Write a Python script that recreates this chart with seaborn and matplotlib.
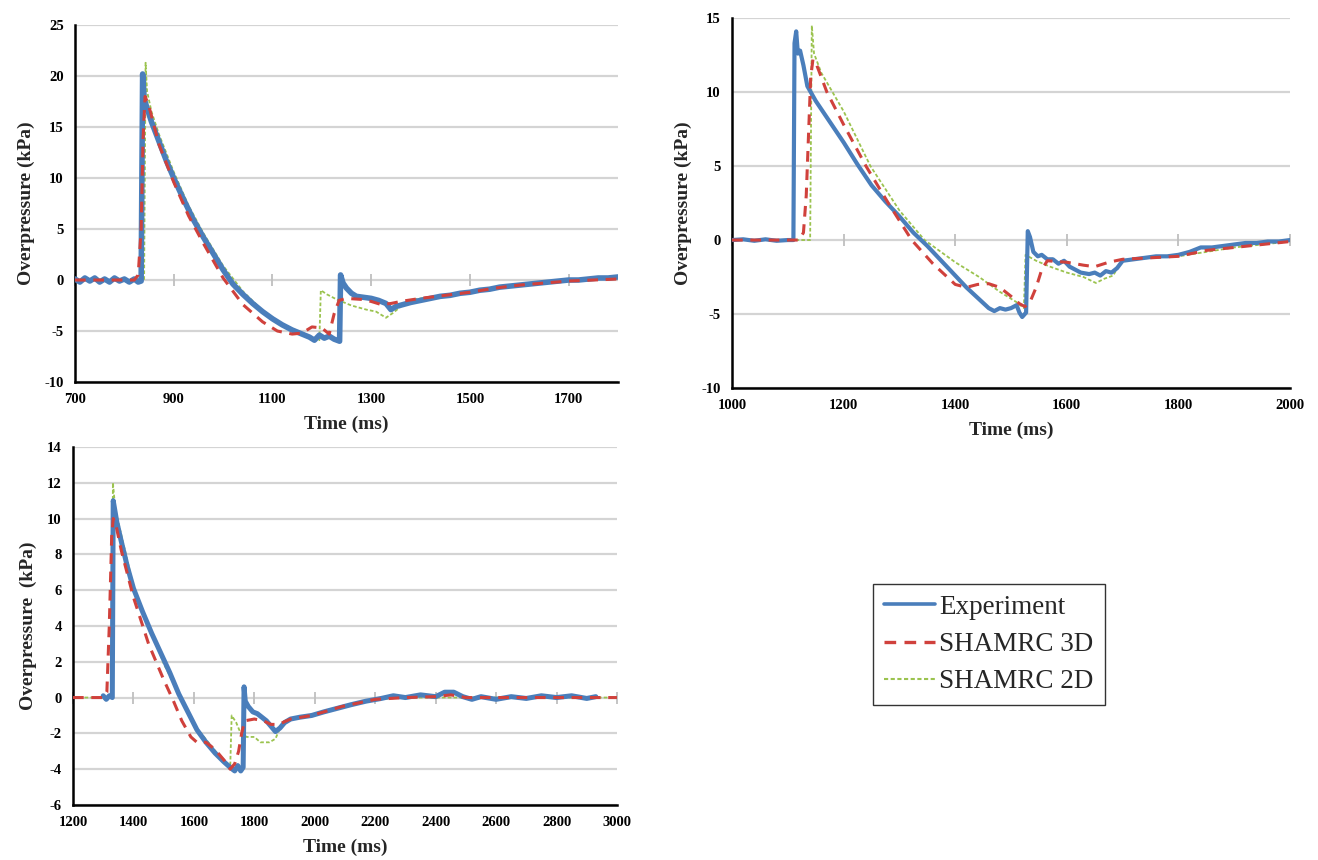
import numpy as np
import pandas as pd
import seaborn as sns
import matplotlib.pyplot as plt
from matplotlib.lines import Line2D

sns.set_theme(style="white")
plt.rcParams['font.family'] = ['Liberation Serif', 'DejaVu Serif']
plt.rcParams['axes.unicode_minus'] = False

# ---------------- Panel 1 data (top-left) ----------------
p1_exp_t = [700, 710, 720, 730, 740, 750, 760, 770, 780, 790, 800, 810, 820, 828, 834, 837, 840,
            845, 855, 870, 885, 900, 920, 940, 960, 980, 1000, 1020, 1040, 1060, 1080, 1100, 1120,
            1140, 1160, 1175, 1185, 1195, 1205, 1215, 1225, 1236, 1238, 1243, 1250, 1260, 1270,
            1285, 1300, 1315, 1330, 1340, 1350, 1365, 1380, 1400, 1420, 1440, 1460, 1480, 1500,
            1520, 1540, 1560, 1580, 1600, 1620, 1640, 1660, 1680, 1700, 1720, 1740, 1760, 1780,
            1800]
p1_exp_v = [0.1, -0.2, 0.2, -0.1, 0.2, -0.2, 0.1, -0.2, 0.2, -0.1, 0.1, -0.2, 0.1, -0.2, -0.1,
            20.2, 17.8, 17.0, 15.5, 13.6, 11.7, 10.0, 7.9, 5.9, 4.2, 2.6, 1.0, -0.4, -1.4, -2.3,
            -3.1, -3.8, -4.4, -4.9, -5.3, -5.6, -5.9, -5.4, -5.7, -5.5, -5.8, -6.0, 0.5, -0.3,
            -0.8, -1.3, -1.6, -1.7, -1.8, -2.0, -2.3, -2.9, -2.6, -2.4, -2.2, -2.0, -1.8, -1.6,
            -1.5, -1.3, -1.2, -1.0, -0.9, -0.7, -0.6, -0.5, -0.4, -0.3, -0.2, -0.1, 0.0, 0.0,
            0.1, 0.2, 0.2, 0.3]

p1_3d_t = [700, 760, 820, 828, 834, 838, 842, 850, 870, 900, 930, 960, 1000, 1040, 1080, 1110,
           1140, 1160, 1180, 1200, 1215, 1225, 1235, 1250, 1280, 1300, 1320, 1340, 1360, 1400,
           1450, 1500, 1550, 1600, 1650, 1700, 1750, 1800]
p1_3d_v = [0, 0, 0, 0.5, 5, 14, 18, 17, 13.3, 9.6, 6.3, 3.6, 0.2, -2.4, -4.1, -5.0, -5.3, -5.2,
           -4.6, -4.7, -5.3, -3.3, -2.0, -1.8, -1.9, -2.1, -2.4, -2.3, -2.1, -1.8, -1.5, -1.2,
           -0.8, -0.5, -0.3, -0.1, 0.0, 0.1]

p1_2d_t = [700, 780, 840, 843, 846, 855, 870, 900, 930, 960, 1000, 1040, 1080, 1120, 1160, 1195,
           1198, 1210, 1230, 1260, 1290, 1310, 1330, 1345, 1360, 1375, 1400, 1500, 1600, 1700, 1800]
p1_2d_v = [0, 0, 0, 21.3, 18.5, 16.5, 14.3, 10.6, 7.3, 4.6, 1.4, -1.1, -3.0, -4.3, -5.2, -5.9,
           -1.0, -1.4, -1.9, -2.5, -2.9, -3.1, -3.7, -3.2, -2.6, -2.0, -1.8, -1.2, -0.5, -0.1, 0.2]

# ---------------- Panel 2 data (top-right) ----------------
p2_exp_t = [1000, 1020, 1040, 1060, 1080, 1100, 1110, 1112, 1115, 1118, 1122, 1128, 1135, 1150,
            1175, 1200, 1225, 1250, 1275, 1300, 1325, 1350, 1375, 1400, 1420, 1440, 1460, 1470,
            1480, 1490, 1500, 1510, 1515, 1520, 1527, 1530, 1534, 1540, 1548, 1555, 1565, 1575,
            1585, 1595, 1605, 1615, 1625, 1640, 1650, 1660, 1670, 1680, 1690, 1700, 1720, 1740,
            1760, 1780, 1800, 1820, 1840, 1860, 1880, 1900, 1920, 1940, 1960, 1980, 2000]
p2_exp_v = [0, 0.05, -0.05, 0.05, -0.05, 0, 0, 13.3, 14.1, 12.6, 12.8, 11.8, 10.4, 9.4, 8.0, 6.6,
            5.1, 3.7, 2.6, 1.6, 0.5, -0.4, -1.4, -2.4, -3.2, -3.9, -4.6, -4.8, -4.6, -4.7, -4.6,
            -4.4, -4.9, -5.2, -4.9, 0.6, 0.2, -0.8, -1.1, -1.0, -1.3, -1.3, -1.6, -1.4, -1.8,
            -2.0, -2.2, -2.3, -2.2, -2.4, -2.1, -2.2, -1.9, -1.4, -1.3, -1.2, -1.1, -1.1, -1.0,
            -0.8, -0.5, -0.5, -0.4, -0.3, -0.2, -0.2, -0.1, -0.1, 0]

p2_3d_t = [1000, 1050, 1100, 1120, 1128, 1133, 1137, 1141, 1145, 1150, 1170, 1200, 1240, 1280,
           1322, 1360, 1400, 1420, 1440, 1460, 1480, 1500, 1515, 1525, 1535, 1545, 1555, 1565,
           1600, 1630, 1650, 1675, 1700, 1800, 1850, 1900, 1950, 2000]
p2_3d_v = [0, 0, 0, 0, 0.5, 3, 7, 11, 12.2, 12.0, 10.0, 7.8, 5.0, 2.5, 0, -1.6, -3.0, -3.2,
           -3.0, -2.95, -3.2, -3.8, -4.3, -4.5, -4.1, -3.2, -2.0, -1.4, -1.5, -1.7, -1.8, -1.5,
           -1.3, -1.1, -0.7, -0.5, -0.3, -0.1]

p2_2d_t = [1000, 1140, 1143, 1147, 1160, 1200, 1248, 1300, 1345, 1400, 1443, 1480, 1510, 1523,
           1526, 1545, 1570, 1600, 1630, 1652, 1668, 1683, 1698, 1750, 1800, 1900, 2000]
p2_2d_v = [0, 0, 14.5, 12.6, 11.3, 8.7, 5.0, 2.0, 0, -1.5, -2.5, -3.5, -4.2, -4.6, -1.0, -1.4,
           -1.8, -2.2, -2.5, -2.9, -2.6, -2.4, -1.4, -1.2, -1.1, -0.5, -0.1]

# ---------------- Panel 3 data (bottom-left) ----------------
p3_exp_t = [1300, 1310, 1320, 1330, 1333, 1337, 1345, 1360, 1380, 1400, 1430, 1460, 1490, 1520,
            1550, 1580, 1610, 1640, 1670, 1700, 1720, 1735, 1745, 1755, 1763, 1766, 1770, 1780,
            1795, 1810, 1825, 1840, 1855, 1870, 1885, 1900, 1920, 1950, 1990, 2030, 2075, 2120,
            2170, 2220, 2260, 2300, 2350, 2400, 2430, 2460, 2490, 2520, 2550, 2600, 2650, 2700,
            2750, 2800, 2850, 2900, 2930]
p3_exp_v = [0.1, -0.1, 0.1, 0, 11.0, 10.6, 9.8, 8.7, 7.3, 6.1, 4.8, 3.6, 2.5, 1.4, 0.2, -0.8,
            -1.8, -2.5, -3.1, -3.6, -3.9, -4.1, -3.8, -4.1, -3.9, 0.6, -0.2, -0.5, -0.8, -0.9,
            -1.1, -1.3, -1.6, -1.9, -1.7, -1.4, -1.2, -1.1, -1.0, -0.8, -0.6, -0.4, -0.2, -0.05,
            0.1, 0.0, 0.15, 0.05, 0.3, 0.3, 0.05, -0.1, 0.05, -0.1, 0.05, -0.05, 0.1, 0.0, 0.1,
            -0.05, 0.05]

p3_3d_t = [1200, 1250, 1300, 1312, 1320, 1328, 1333, 1340, 1360, 1400, 1450, 1500, 1530, 1560,
           1590, 1610, 1640, 1670, 1700, 1720, 1735, 1748, 1758, 1768, 1800, 1830, 1855, 1880,
           1920, 1990, 2090, 2200, 2300, 2400, 2450, 2500, 2600, 3000]
p3_3d_v = [0, 0, 0, 0.3, 4, 9, 10.0, 9.8, 8.2, 5.6, 3.0, 1.0, -0.1, -1.3, -2.2, -2.5, -2.5, -2.9,
           -3.5, -4.0, -3.7, -3.0, -2.0, -1.3, -1.2, -1.3, -1.5, -1.5, -1.2, -1.0, -0.5, -0.1,
           0, 0.05, 0.15, 0, 0, 0]

p3_2d_t = [1200, 1300, 1329, 1332, 1340, 1400, 1500, 1600, 1700, 1720, 1725, 1740, 1755, 1775,
           1800, 1820, 1850, 1870, 1890, 1900, 2000, 2100, 2200, 2300, 3000]
p3_2d_v = [0, 0, 0, 12.0, 10.5, 6.2, 1.9, -1.5, -3.6, -4.0, -1.0, -1.4, -2.0, -2.2, -2.2, -2.5,
           -2.5, -2.3, -1.5, -1.3, -0.9, -0.5, -0.1, 0, 0]

series_names = ["Experiment", "SHAMRC 3D", "SHAMRC 2D"]

p1_xlim = [700, 1800]
p1_xticks = [700, 900, 1100, 1300, 1500, 1700]
p1_yticks = [-10, -5, 0, 5, 10, 15, 20, 25]
p2_xlim = [1000, 2000]
p2_xticks = [1000, 1200, 1400, 1600, 1800, 2000]
p2_yticks = [-10, -5, 0, 5, 10, 15]
p3_xlim = [1200, 3000]
p3_xticks = [1200, 1400, 1600, 1800, 2000, 2200, 2400, 2600, 2800, 3000]
p3_yticks = [-6, -4, -2, 0, 2, 4, 6, 8, 10, 12, 14]

# ---------------- styling ----------------
C_EXP = "#4A7EBB"
C_3D = "#D0413C"
C_2D = "#9BC34F"
GRID = "#D4D4D4"

fig = plt.figure(figsize=(13.18, 8.6), dpi=100)
fig.patch.set_facecolor("white")

ax1 = fig.add_axes([0.0569, 0.5558, 0.4120, 0.4151])
ax2 = fig.add_axes([0.5554, 0.5488, 0.4234, 0.4302])
ax3 = fig.add_axes([0.0554, 0.0640, 0.4127, 0.4163])

panels = [
    (ax1, (p1_exp_t, p1_exp_v), (p1_3d_t, p1_3d_v), (p1_2d_t, p1_2d_v), p1_xlim, p1_xticks,
     p1_yticks, "Overpressure (kPa)", 4.0),
    (ax2, (p2_exp_t, p2_exp_v), (p2_3d_t, p2_3d_v), (p2_2d_t, p2_2d_v), p2_xlim, p2_xticks,
     p2_yticks, "Overpressure (kPa)", 3.0),
    (ax3, (p3_exp_t, p3_exp_v), (p3_3d_t, p3_3d_v), (p3_2d_t, p3_2d_v), p3_xlim, p3_xticks,
     p3_yticks, "Overpressure  (kPa)", 3.6),
]

for ax, exp, d3, d2, xl, xt, yt, ylab, lw_exp in panels:
    frames = []
    for name, (t, v) in zip(series_names, [exp, d3, d2]):
        frames.append(pd.DataFrame({"Time": t, "P": v, "Series": name}))
    df = pd.concat(frames, ignore_index=True)

    sns.lineplot(data=df[df.Series == "SHAMRC 2D"], x="Time", y="P", ax=ax, color=C_2D,
                 lw=1.3, linestyle=(0, (2, 1.2)), estimator=None, sort=False, zorder=3)
    sns.lineplot(data=df[df.Series == "Experiment"], x="Time", y="P", ax=ax, color=C_EXP,
                 lw=lw_exp, estimator=None, sort=False, zorder=4)
    sns.lineplot(data=df[df.Series == "SHAMRC 3D"], x="Time", y="P", ax=ax, color=C_3D,
                 lw=2.2, linestyle=(0, (3.5, 2.5)), estimator=None, sort=False, zorder=5)

    # tick marks drawn on the zero line (Excel-style horizontal axis)
    ax.plot(xt, [0] * len(xt), ls="none", marker="|", ms=8, mew=1.3, color="#BFBFBF",
            zorder=2, clip_on=False)

    ax.set_xlim(*xl)
    ax.set_ylim(yt[0], yt[-1])
    ax.set_xticks(xt)
    ax.set_yticks(yt)
    ax.yaxis.grid(True, color=GRID, lw=1.6)
    ax.xaxis.grid(False)
    ax.set_axisbelow(True)
    for s in ["top", "right"]:
        ax.spines[s].set_visible(False)
    for s in ["left", "bottom"]:
        ax.spines[s].set_color("black")
        ax.spines[s].set_linewidth(1.8)
    ax.tick_params(axis="both", length=0, pad=8, labelsize=10.5, colors="black")
    for lab in ax.get_xticklabels() + ax.get_yticklabels():
        lab.set_fontweight("bold")
    ax.set_xlabel("Time (ms)", fontsize=14, fontweight="bold", labelpad=7)
    ax.set_ylabel(ylab, fontsize=14, fontweight="bold", labelpad=7)
    ax.set_facecolor("white")
    if ax.get_legend() is not None:
        ax.get_legend().remove()

handles = [
    Line2D([], [], color=C_EXP, lw=2.6),
    Line2D([], [], color=C_3D, lw=2.4, linestyle=(0, (3.5, 2.5))),
    Line2D([], [], color=C_2D, lw=1.5, linestyle=(0, (2, 1.2))),
]
leg = fig.legend(handles, series_names, loc="upper left",
                 bbox_to_anchor=(873 / 1318, 1 - 584 / 860), frameon=True, fancybox=False,
                 fontsize=19.5, handlelength=1.9, handletextpad=0.15, labelspacing=0.45,
                 borderpad=0.4, borderaxespad=0)
leg.get_frame().set_edgecolor("black")
leg.get_frame().set_linewidth(1.0)

fig.savefig("out.png", dpi=100, facecolor="white")
